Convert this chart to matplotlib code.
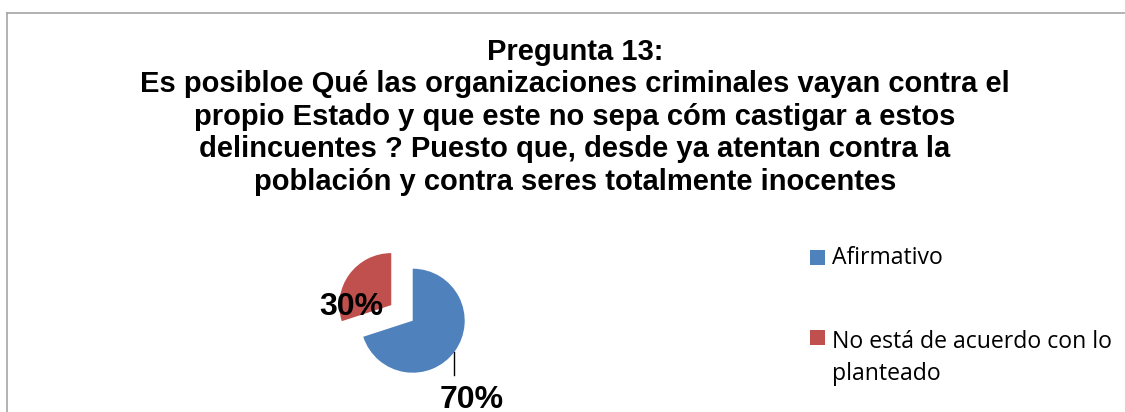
import matplotlib.pyplot as plt
from matplotlib.patches import Rectangle
from matplotlib.lines import Line2D

categories = ["Afirmativo", "No está de acuerdo con lo\nplanteado"]
values = [70, 30]
colors = ["#4f81bd", "#c0504d"]
title = ("Pregunta 13:\n"
         "Es posibloe Qué las organizaciones criminales vayan contra el\n"
         "propio Estado y que este no sepa cóm castigar a estos\n"
         "delincuentes ? Puesto que, desde ya atentan contra la\n"
         "población y contra seres totalmente inocentes")

W, H = 1125, 412
fig = plt.figure(figsize=(W / 100, H / 100), dpi=100)

# marco del gráfico
fig.add_artist(Line2D([6.5 / W, 6.5 / W], [0, 1 - 13 / H], color="#a6a6a6", lw=1.2))
fig.add_artist(Line2D([6.5 / W, 1], [1 - 13 / H, 1 - 13 / H], color="#a6a6a6", lw=1.2))

# va="baseline" en texto multilínea usa la última línea
fig.text(575 / W, 1 - 190 / H, title, ha="center", va="baseline", fontsize=21,
         fontweight="bold", family="Liberation Sans", linespacing=1.21,
         multialignment="center")

# pastel
r_px = 52
cx, cy = 412.7, 412 - 320.7
x0, x1, y0, y1 = 300, 530, 0, 182
ax = fig.add_axes([x0 / W, y0 / H, (x1 - x0) / W, (y1 - y0) / H])
wedges, _ = ax.pie(values, colors=colors, startangle=90, counterclock=False,
                   explode=[0, 0.51], radius=1.0)
ax.set_xlim((x0 - cx) / r_px, (x1 - cx) / r_px)
ax.set_ylim((y0 - cy) / r_px, (y1 - cy) / r_px)
ax.set_aspect("equal")
ax.axis("off")

lbl_font = dict(fontsize=23, fontweight="bold", family="Liberation Sans",
                ha="center", va="baseline")
ax.text(-1.187, 0.11, f"{values[1]}%", **lbl_font)
ax.plot([0.80, 0.80], [-0.60, -1.04], color="black", lw=1)
ax.text(1.135, -1.68, f"{values[0]}%", **lbl_font)

# leyenda
square_y = [257, 337.5]
text_y = [263.5, 380]
for name, col, sy, ty in zip(categories, colors, square_y, text_y):
    fig.add_artist(Rectangle((810 / W, 1 - (sy + 7.5) / H), 15 / W, 15 / H,
                             facecolor=col, edgecolor="none"))
    fig.text(832 / W, 1 - ty / H, name, ha="left", va="baseline", fontsize=16.6,
             family="Open Sans", linespacing=1.45)

fig.savefig("out.png", dpi=100)
